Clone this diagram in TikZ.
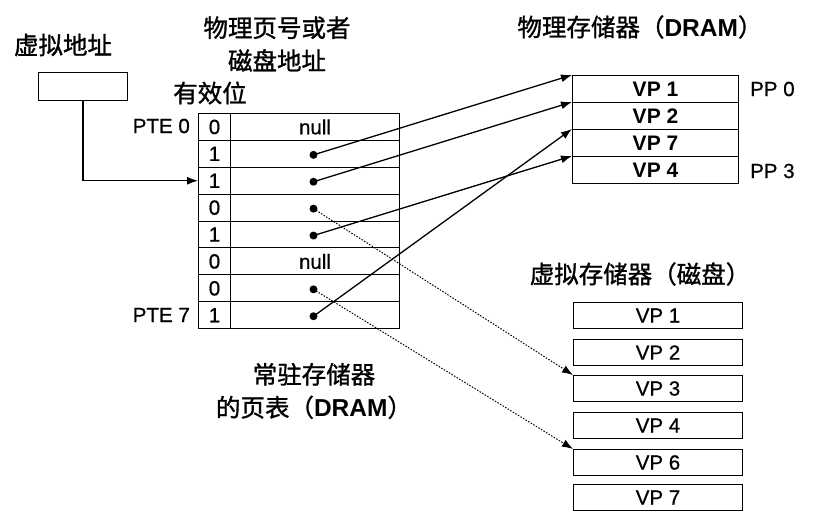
\documentclass[tikz,border=0pt]{standalone}
\usepackage{fontspec}
\setmainfont{Liberation Sans}[FakeBold=0.7]
\newfontfamily\cjk{Noto Sans CJK SC}[FakeBold=1.2]
\newfontfamily\latinb{Liberation Sans Bold}
\usetikzlibrary{arrows.meta,calc}
\tikzset{
  cell/.style={draw, line width=1pt, inner sep=0pt, anchor=north west, font=\fontsize{20.5}{21}\selectfont},
  lbl/.style={inner sep=0pt, font=\fontsize{20.5}{21}\selectfont},
  cjklbl/.style={inner sep=0pt, font=\fontsize{24.5}{33}\selectfont\cjk, align=center},
  dotp/.style={circle, fill=black, inner sep=0pt, minimum size=8pt},
  ptr/.style={line width=1.3pt, -{Latex[length=11pt,width=8pt]}},
  dptr/.style={line width=1pt, dash pattern=on 1.5pt off 1.5pt, -{Latex[length=11pt,width=8pt]}}
}
\begin{document}
\begin{tikzpicture}[x=1pt,y=-1pt]
\useasboundingbox (0,0) rectangle (819,526);
% virtual address
\node[cjklbl] (valbl) at (63,45) {虚拟地址};
\node[cell, minimum width=89pt, minimum height=28pt] (va) at (38,72) {};
% headings
\node[cjklbl] (hdr) at (277,44) {物理页号或者\\磁盘地址};
\node[cjklbl] (vbit) at (210,93) {有效位};
% page table
\foreach \i/\v in {0/0,1/1,2/1,3/0,4/1,5/0,6/0,7/1}{
  \node[cell, minimum width=32pt, minimum height=26.9pt] (v\i) at (198,{113+26.9*\i}) {\v};
  \node[cell, minimum width=169pt, minimum height=26.9pt] (a\i) at (230,{113+26.9*\i}) {};
}
\node[lbl] at (a0) {null};
\node[lbl] at (a5) {null};
\node[lbl, anchor=east] (pte0) at (190,126) {PTE 0};
\node[lbl, anchor=east] (pte7) at (190,315) {PTE 7};
\foreach \i in {1,2,3,4,6,7}{
  \node[dotp] (d\i) at ($(a\i.center)+(-1.5,1)$) {};
}
\node[cjklbl] (ptcap) at (314,391) {常驻存储器\\的页表（{\latinb DRAM}）};
% physical memory
\node[cjklbl] (pmcap) at (640,27) {物理存储器（{\latinb DRAM}）};
\foreach \i/\t in {0/1,1/2,2/7,3/4}{
  \node[cell, minimum width=166pt, minimum height=27pt, font=\fontsize{21}{22}\latinb] (p\i) at (572,{75+27*\i}) {VP \t};
}
\node[lbl, anchor=west] (pp0) at (750,89) {PP 0};
\node[lbl, anchor=west] (pp3) at (750,171) {PP 3};
% disk
\node[cjklbl] (dkcap) at (640,274) {虚拟存储器（磁盘）};
\foreach \i/\t/\y in {0/1/302,1/2/339,2/3/375,3/4/412,4/6/449,5/7/484}{
  \node[cell, minimum width=169pt, minimum height=26pt] (k\i) at (573,\y) {VP \t};
}
% connectors
\draw[ptr] (va.south) |- (v2.west);
\draw[ptr] (d1.center) -- (p0.north west);
\draw[ptr] (d2.center) -- (p1.north west);
\draw[ptr] (d4.center) -- (p3.north west);
\draw[ptr] (d7.center) -- (p2.north west);
\draw[dptr] (d3.center) -- (k2.north west);
\draw[dptr] (d6.center) -- (k4.north west);
\end{tikzpicture}
\end{document}
